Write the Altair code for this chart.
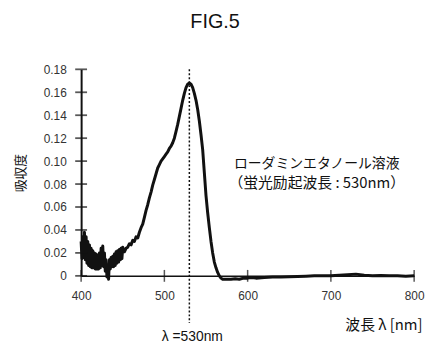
import altair as alt
import pandas as pd

# ---- data ----
wavelength_noisy = list(range(400, 451))
absorbance_noisy = [0.030, 0.015, 0.034, 0.016, 0.038, 0.014, 0.034, 0.011, 0.030, 0.009,
                    0.027, 0.008, 0.024, 0.007, 0.022, 0.007, 0.020, 0.006, 0.019, 0.006,
                    0.018, 0.006, 0.020, 0.007, 0.024, 0.009, 0.026, 0.008, 0.020, 0.004,
                    0.014, -0.001, 0.006, -0.003, 0.014, 0.006, 0.016, 0.008, 0.017, 0.008,
                    0.019, 0.009, 0.021, 0.011, 0.022, 0.012, 0.023, 0.014, 0.024, 0.015,
                    0.025]
wavelength_main = [452, 454, 456, 458, 460, 462, 464, 466, 468, 470, 472, 474, 476, 478, 480,
                   482, 484, 486, 488, 490, 492, 494, 496, 498, 500, 502, 504, 506, 508, 510,
                   512, 514, 516, 518, 520, 522, 524, 526, 528, 530, 532, 534, 536, 538, 540,
                   542, 544, 546, 548, 550, 552, 554, 556, 558, 560, 562, 564, 566, 568, 570,
                   575, 580, 585, 590, 595, 600, 605, 610, 620, 630, 640, 650, 660, 670, 680,
                   690, 700, 710, 720, 730, 740, 750, 760, 770, 780, 790, 800]
absorbance_main = [0.021, 0.024, 0.025, 0.028, 0.027, 0.031, 0.030, 0.034, 0.033, 0.038,
                   0.042, 0.045, 0.051, 0.057, 0.062, 0.068, 0.073, 0.079, 0.084, 0.089,
                   0.094, 0.097, 0.100, 0.102, 0.104, 0.106, 0.108, 0.111, 0.113, 0.116,
                   0.120, 0.126, 0.132, 0.139, 0.146, 0.153, 0.159, 0.164, 0.167, 0.168,
                   0.167, 0.164, 0.159, 0.153, 0.145, 0.135, 0.123, 0.110, 0.090, 0.070,
                   0.055, 0.042, 0.030, 0.020, 0.012, 0.007, 0.003, 0.000, -0.002, -0.003,
                   -0.003, -0.003, -0.0025, -0.003, -0.002, -0.002, -0.0015, -0.002, -0.0015, -0.001,
                   -0.001, -0.0008, -0.0005, -0.0003, 0.0, 0.0, 0.0, 0.0005, 0.001, 0.0015,
                   0.0005, 0.0, 0.0003, 0.0, 0.0, -0.0003, 0.0]

wavelength = wavelength_noisy + wavelength_main
absorbance = absorbance_noisy + absorbance_main

y_ticks = [0, 0.02, 0.04, 0.06, 0.08, 0.10, 0.12, 0.14, 0.16, 0.18]
x_ticks = [400, 500, 600, 700, 800]
x_domain = [400, 800]
y_domain = [0, 0.18]

peak_nm = 530
peak_top = 0.18
peak_bottom = -0.041
peak_label = "λ =530nm"
peak_label_y = -0.0535

annot_line1 = "ローダミンエタノール溶液"
annot_line2 = "（蛍光励起波長 : 530nm）"
annot_x = 683
annot_y1 = 0.0975
annot_y2 = 0.081

title_text = "FIG.5"
y_title = "吸収度"
x_title = "波長 λ [nm]"

JP = "Noto Sans CJK JP"
NUM = "Liberation Sans"
INK = "#111111"

xs = alt.Scale(domain=x_domain, nice=False, zero=False)
ys = alt.Scale(domain=y_domain, nice=False, zero=False)

x_axis = alt.Axis(
    values=x_ticks, grid=False, ticks=False, tickSize=0, domainColor=INK, domainWidth=1.5,
    labelFont=NUM, labelFontSize=12, labelColor="#333333", labelPadding=15, labelFlush=False,
    title=x_title, titleFont=JP, titleFontSize=15, titleFontWeight="normal", titleColor=INK,
    titleX=345, titleY=49, titleAlign="right", titleBaseline="middle")
y_axis = alt.Axis(
    values=y_ticks, grid=False, ticks=False, tickSize=0, domainColor=INK, domainWidth=2,
    labelFont=NUM, labelFontSize=12, labelColor="#333333", labelPadding=15, labelFlush=False,
    labelExpr="datum.value == 0 ? '0' : format(datum.value, '.2f')",
    title=y_title, titleFont=JP, titleFontSize=13, titleFontWeight="normal", titleColor=INK,
    titleX=-61, titleY=104.5, titleAngle=270, titleAlign="center", titleBaseline="middle")


def X(field):
    return alt.X(field, type="quantitative", scale=xs, axis=x_axis, title=x_title)


def Y(field):
    return alt.Y(field, type="quantitative", scale=ys, axis=y_axis, title=y_title)


df = pd.DataFrame({"wl": wavelength, "abs": absorbance})
curve = alt.Chart(df).mark_line(color=INK, strokeWidth=3, strokeJoin="round").encode(
    x=X("wl"), y=Y("abs"))

ytick_df = pd.DataFrame({"wl": [x_domain[0]] * len(y_ticks), "abs": y_ticks})
ytick_marks = alt.Chart(ytick_df).mark_tick(orient="horizontal", size=12, thickness=1.8, color=INK).encode(
    x=X("wl"), y=Y("abs"))

xtick_df = pd.DataFrame({"wl": x_ticks, "abs": [0] * len(x_ticks)})
xtick_marks = alt.Chart(xtick_df).mark_tick(orient="vertical", size=12, thickness=1.5, color=INK).encode(
    x=X("wl"), y=Y("abs"))

rule_df = pd.DataFrame({"wl": [peak_nm], "abs": [peak_top], "bottom": [peak_bottom]})
peak_rule = alt.Chart(rule_df).mark_rule(color=INK, strokeWidth=1.5, strokeDash=[2, 2]).encode(
    x=X("wl"), y=Y("abs"), y2="bottom:Q")

plabel_df = pd.DataFrame({"wl": [peak_nm], "abs": [peak_label_y], "t": [peak_label]})
peak_text = alt.Chart(plabel_df).mark_text(font=NUM, fontSize=14, color=INK, dx=3).encode(
    x=X("wl"), y=Y("abs"), text="t:N")

annot1_df = pd.DataFrame({"wl": [annot_x], "abs": [annot_y1], "t": [annot_line1]})
annot1 = alt.Chart(annot1_df).mark_text(font=JP, fontSize=14, color=INK).encode(
    x=X("wl"), y=Y("abs"), text="t:N")
annot2_df = pd.DataFrame({"wl": [annot_x], "abs": [annot_y2], "t": [annot_line2]})
annot2 = alt.Chart(annot2_df).mark_text(font=JP, fontSize=15, color=INK).encode(
    x=X("wl"), y=Y("abs"), text="t:N")

chart = alt.layer(curve, ytick_marks, xtick_marks, peak_rule, peak_text, annot1, annot2).properties(
    width=337, height=209,
    autosize=alt.AutoSizeParams(type="none"),
    padding={"left": 74, "top": 60, "right": 12, "bottom": 75},
    title=alt.Title(title_text, font=NUM, fontSize=20, fontWeight="normal", color=INK,
                    anchor="middle", dx=-33, offset=32),
).configure_view(stroke=None)

chart.save("out.html", embed_options={"renderer": "svg", "actions": False})
